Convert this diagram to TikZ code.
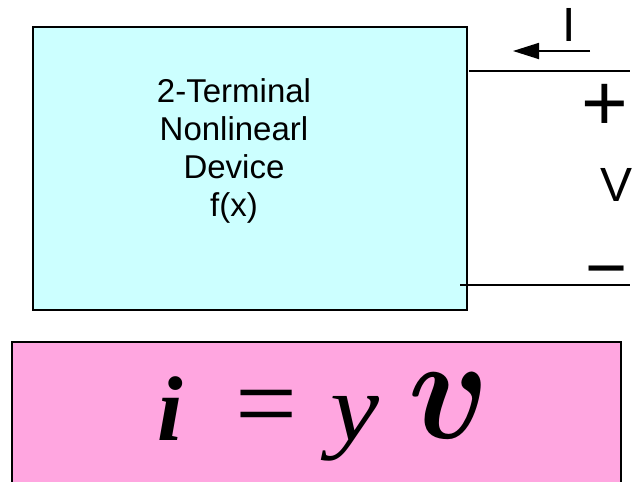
\documentclass[tikz,border=0pt]{standalone}
\usepackage{amsmath}
\usepackage{fontspec}
\setmainfont{Liberation Sans}
\newfontfamily\eqfont{Liberation Serif}
\usetikzlibrary{arrows.meta}
\definecolor{devcyan}{RGB}{204,255,255}
\definecolor{eqpink}{RGB}{255,166,224}

\begin{document}
\begin{tikzpicture}[x=1pt,y=-1pt,
  box/.style={draw=black,line width=1.6pt},
  wire/.style={line width=1.3pt},
  bigsign/.style={anchor=base,inner sep=0pt,font=\fontsize{80}{80}\selectfont},
  eqpart/.style={anchor=base west,inner sep=0pt,font=\eqfont\fontsize{92}{92}\selectfont}]
  \useasboundingbox (0,0) rectangle (633,482);
  \clip (0,0) rectangle (633,482);
  % the device
  \node[box,fill=devcyan,anchor=north west,minimum width=434pt,minimum height=283pt] (dev) at (32,26) {};
  \node[align=center,font=\fontsize{33}{38}\selectfont] (devtext) at (234,151)
    {2-Terminal\\Nonlinearl\\Device\\f(x)};
  % terminals
  \coordinate (ptop) at (469,71);
  \coordinate (ptopend) at (630,71);
  \coordinate (pbot) at (460,285);
  \coordinate (pbotend) at (630,285);
  \draw[wire] (ptop) -- (ptopend);
  \draw[wire] (pbot) -- (pbotend);
  \coordinate (itail) at (590,51);
  \coordinate (ihead) at (513,51);
  \draw[line width=1.8pt,-{Triangle[length=26pt,width=16pt]}] (itail) -- (ihead);
  \node[font=\fontsize{48}{48}\selectfont,inner sep=0pt] (curr) at (569,25) {I};
  \node[bigsign] (plus) at (605,130) {+};
  \node[font=\fontsize{48}{48}\selectfont,inner sep=0pt] (volt) at (617,185) {V};
  \node[bigsign,font=\fontsize{72}{72}\selectfont] (minus) at (607,292) {−};
  % the equation
  \node[box,line width=2.2pt,fill=eqpink,anchor=north west,minimum width=609pt,minimum height=150pt] (eq) at (11,341) {};
  \node[eqpart] (eqi) at (157,440) {\textbf{\textit{i}}};
  \node[eqpart,font=\eqfont\fontsize{110}{110}\selectfont] (eqeq) at (235,440) {=};
  \node[eqpart,font=\eqfont\fontsize{96}{96}\selectfont,xscale=1.15,transform shape] (eqy) at (330,440) {\textit{y}};
  \node[anchor=south west,inner sep=0pt,xscale=5.4,yscale=5.9,transform shape] (eqv) at (407,440)
    {\Huge$\boldsymbol{v}$};
\end{tikzpicture}
\end{document}
